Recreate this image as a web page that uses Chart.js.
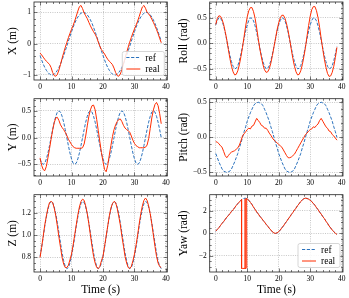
<!DOCTYPE html>
<html>
<head>
<meta charset="utf-8">
<script src="https://cdn.jsdelivr.net/npm/chart.js@4.4.1/dist/chart.umd.min.js"></script>
<style>
  html, body { margin: 0; padding: 0; background: #fff; }
  #fig { position: relative; width: 349px; height: 298px; overflow: hidden; background: #fff; }
  #fig canvas { position: absolute; }
</style>
</head>
<body>
<div id="fig">
  <canvas id="chartX" width="175" height="96" style="left:0;top:0"></canvas>
  <canvas id="chartRoll" width="174" height="96" style="left:175px;top:0"></canvas>
  <canvas id="chartY" width="175" height="96" style="left:0;top:96px"></canvas>
  <canvas id="chartPitch" width="174" height="96" style="left:175px;top:96px"></canvas>
  <canvas id="chartZ" width="175" height="106" style="left:0;top:192px"></canvas>
  <canvas id="chartYaw" width="174" height="106" style="left:175px;top:192px"></canvas>
</div>
<script>
// ---- data ----
const time = [
  0, 0.5, 1, 1.5, 2, 2.5, 3, 3.5, 4, 4.5, 5, 5.5, 6, 6.5, 7, 7.5, 8, 8.5, 9, 9.5,
  10, 10.5, 11, 11.5, 12, 12.5, 13, 13.5, 14, 14.5, 15, 15.5, 16, 16.5, 17, 17.5, 18, 18.5, 19, 19.5,
  20, 20.5, 21, 21.5, 22, 22.5, 23, 23.5, 24, 24.5, 25, 25.5, 26, 26.5, 27, 27.5, 28, 28.5, 29, 29.5,
  30, 30.5, 31, 31.5, 32, 32.5, 33, 33.5, 34, 34.5, 35, 35.5, 36, 36.5, 37, 37.5, 38, 38.5
]

const xRef = [
  -0.38, -0.52, -0.65, -0.76, -0.85, -0.92, -0.97, -1.00, -1.00, -0.97,
  -0.92, -0.85, -0.76, -0.65, -0.52, -0.38, -0.23, -0.08, 0.08, 0.23,
  0.38, 0.52, 0.65, 0.76, 0.85, 0.92, 0.97, 1.00, 1.00, 0.97,
  0.92, 0.85, 0.76, 0.65, 0.52, 0.38, 0.23, 0.08, -0.08, -0.23,
  -0.38, -0.52, -0.65, -0.76, -0.85, -0.92, -0.97, -1.00, -1.00, -0.97,
  -0.92, -0.85, -0.76, -0.65, -0.52, -0.38, -0.23, -0.08, 0.08, 0.23,
  0.38, 0.52, 0.65, 0.76, 0.85, 0.92, 0.97, 1.00, 1.00, 0.97,
  0.92, 0.85, 0.76, 0.65, 0.52, 0.38, 0.23, 0.08
]
const xReal = [
  -0.30, -0.36, -0.43, -0.50, -0.56, -0.61, -0.66, -0.76, -0.92, -1.02,
  -1.04, -0.98, -0.84, -0.66, -0.47, -0.29, -0.12, 0.04, 0.19, 0.33,
  0.46, 0.58, 0.72, 0.88, 1.04, 1.18, 1.22, 1.12, 0.98, 0.89,
  0.80, 0.68, 0.57, 0.47, 0.38, 0.30, 0.20, 0.05, -0.08, -0.19,
  -0.26, -0.33, -0.42, -0.50, -0.56, -0.61, -0.67, -0.78, -0.92, -1.02,
  -1.04, -0.97, -0.83, -0.65, -0.46, -0.28, -0.11, 0.05, 0.20, 0.34,
  0.47, 0.59, 0.72, 0.87, 1.03, 1.17, 1.22, 1.13, 1.00, 0.95,
  0.88, 0.78, 0.68, 0.57, 0.45, 0.32, 0.17, 0.03
]

const yRef = [
  -0.40, -0.48, -0.50, -0.48, -0.40, -0.29, -0.15, 0.00, 0.15, 0.29,
  0.40, 0.48, 0.50, 0.48, 0.40, 0.29, 0.15, 0.00, -0.15, -0.29,
  -0.40, -0.48, -0.50, -0.48, -0.40, -0.29, -0.15, 0.00, 0.15, 0.29,
  0.40, 0.48, 0.50, 0.48, 0.40, 0.29, 0.15, 0.00, -0.15, -0.29,
  -0.40, -0.48, -0.50, -0.48, -0.40, -0.29, -0.15, 0.00, 0.15, 0.29,
  0.40, 0.48, 0.50, 0.48, 0.40, 0.29, 0.15, 0.00, -0.15, -0.29,
  -0.40, -0.48, -0.50, -0.48, -0.40, -0.29, -0.15, 0.00, 0.15, 0.29,
  0.40, 0.48, 0.50, 0.48, 0.40, 0.29, 0.15, 0.00
]
const yReal = [
  -0.38, -0.52, -0.60, -0.62, -0.54, -0.38, -0.21, -0.03, 0.14, 0.28,
  0.37, 0.38, 0.32, 0.24, 0.19, 0.15, 0.10, 0.04, -0.03, -0.08,
  -0.13, -0.17, -0.19, -0.20, -0.20, -0.20, -0.20, -0.19, -0.12, 0.03,
  0.22, 0.40, 0.52, 0.60, 0.61, 0.52, 0.34, 0.13, -0.08, -0.28,
  -0.45, -0.60, -0.64, -0.52, -0.33, -0.15, 0.02, 0.15, 0.24, 0.30,
  0.34, 0.35, 0.30, 0.23, 0.18, 0.15, 0.13, 0.10, 0.03, -0.05,
  -0.11, -0.15, -0.17, -0.19, -0.19, -0.19, -0.19, -0.18, -0.14, -0.02,
  0.17, 0.37, 0.52, 0.62, 0.66, 0.60, 0.45, 0.26
]

const zRef = [
  0.81, 0.89, 0.98, 1.08, 1.16, 1.23, 1.28, 1.30, 1.29, 1.25,
  1.19, 1.11, 1.02, 0.93, 0.84, 0.77, 0.72, 0.70, 0.71, 0.75,
  0.81, 0.89, 0.98, 1.08, 1.16, 1.23, 1.28, 1.30, 1.29, 1.25,
  1.19, 1.11, 1.02, 0.93, 0.84, 0.77, 0.72, 0.70, 0.71, 0.75,
  0.81, 0.89, 0.98, 1.08, 1.16, 1.23, 1.28, 1.30, 1.29, 1.25,
  1.19, 1.11, 1.02, 0.93, 0.84, 0.77, 0.72, 0.70, 0.71, 0.75,
  0.81, 0.89, 0.98, 1.08, 1.16, 1.23, 1.28, 1.30, 1.29, 1.25,
  1.19, 1.11, 1.02, 0.93, 0.84, 0.77, 0.72, 0.70
]
const zReal = [
  0.80, 0.89, 0.99, 1.09, 1.17, 1.24, 1.29, 1.30, 1.29, 1.24,
  1.17, 1.08, 0.98, 0.89, 0.80, 0.74, 0.71, 0.71, 0.73, 0.78,
  0.83, 0.91, 1.00, 1.09, 1.18, 1.25, 1.30, 1.32, 1.31, 1.26,
  1.19, 1.10, 1.00, 0.90, 0.81, 0.75, 0.71, 0.70, 0.72, 0.77,
  0.81, 0.90, 0.99, 1.08, 1.17, 1.24, 1.28, 1.30, 1.29, 1.24,
  1.17, 1.09, 0.99, 0.90, 0.81, 0.75, 0.71, 0.70, 0.72, 0.77,
  0.83, 0.91, 1.00, 1.10, 1.19, 1.26, 1.31, 1.33, 1.31, 1.26,
  1.19, 1.10, 1.00, 0.90, 0.81, 0.75, 0.72, 0.71
]

const rollRef = [
  0.36, 0.45, 0.50, 0.49, 0.44, 0.34, 0.21, 0.06, -0.09, -0.24,
  -0.36, -0.45, -0.50, -0.49, -0.44, -0.34, -0.21, -0.06, 0.09, 0.24,
  0.36, 0.45, 0.50, 0.49, 0.44, 0.34, 0.21, 0.06, -0.09, -0.24,
  -0.36, -0.45, -0.50, -0.49, -0.44, -0.34, -0.21, -0.06, 0.09, 0.24,
  0.36, 0.45, 0.50, 0.49, 0.44, 0.34, 0.21, 0.06, -0.09, -0.24,
  -0.36, -0.45, -0.50, -0.49, -0.44, -0.34, -0.21, -0.06, 0.09, 0.24,
  0.36, 0.45, 0.50, 0.49, 0.44, 0.34, 0.21, 0.06, -0.09, -0.24,
  -0.36, -0.45, -0.50, -0.49, -0.44, -0.34, -0.21, -0.06
]
const rollReal = [
  0.37, 0.49, 0.54, 0.53, 0.47, 0.37, 0.23, 0.07, -0.12, -0.30,
  -0.45, -0.56, -0.62, -0.61, -0.54, -0.42, -0.26, -0.08, 0.13, 0.34,
  0.52, 0.64, 0.70, 0.70, 0.62, 0.49, 0.30, 0.09, -0.11, -0.27,
  -0.42, -0.52, -0.57, -0.56, -0.50, -0.39, -0.24, -0.07, 0.10, 0.27,
  0.40, 0.50, 0.55, 0.55, 0.49, 0.38, 0.24, 0.07, -0.12, -0.30,
  -0.45, -0.56, -0.62, -0.61, -0.54, -0.42, -0.26, -0.08, 0.14, 0.35,
  0.53, 0.66, 0.72, 0.72, 0.64, 0.50, 0.31, 0.09, -0.12, -0.31,
  -0.47, -0.59, -0.65, -0.64, -0.57, -0.45, -0.28, -0.08
]

const pitchRef = [
  -0.23, -0.29, -0.35, -0.40, -0.45, -0.48, -0.49, -0.50, -0.49, -0.48,
  -0.45, -0.40, -0.35, -0.29, -0.23, -0.15, -0.08, 0.00, 0.08, 0.15,
  0.23, 0.29, 0.35, 0.40, 0.45, 0.48, 0.49, 0.50, 0.49, 0.48,
  0.45, 0.40, 0.35, 0.29, 0.23, 0.15, 0.08, 0.00, -0.08, -0.15,
  -0.23, -0.29, -0.35, -0.40, -0.45, -0.48, -0.49, -0.50, -0.49, -0.48,
  -0.45, -0.40, -0.35, -0.29, -0.23, -0.15, -0.08, 0.00, 0.08, 0.15,
  0.23, 0.29, 0.35, 0.40, 0.45, 0.48, 0.49, 0.50, 0.49, 0.48,
  0.45, 0.40, 0.35, 0.29, 0.23, 0.15, 0.08, 0.00
]
const pitchReal = [
  -0.06, -0.07, -0.09, -0.12, -0.14, -0.20, -0.26, -0.29, -0.26, -0.23,
  -0.21, -0.20, -0.19, -0.17, -0.15, -0.11, -0.05, 0.02, 0.05, 0.08,
  0.11, 0.13, 0.12, 0.16, 0.17, 0.22, 0.27, 0.24, 0.21, 0.17,
  0.16, 0.13, 0.13, 0.10, 0.06, 0.03, -0.01, -0.04, -0.06, -0.08,
  -0.10, -0.12, -0.14, -0.18, -0.22, -0.26, -0.29, -0.29, -0.28, -0.26,
  -0.24, -0.20, -0.16, -0.12, -0.08, -0.04, 0.00, 0.04, 0.06, 0.09,
  0.11, 0.12, 0.15, 0.14, 0.17, 0.19, 0.24, 0.27, 0.23, 0.19,
  0.15, 0.13, 0.09, 0.08, 0.04, 0.02, -0.01, -0.04
]

const yawRef = [
  0.18, 0.35, 0.52, 0.70, 0.88, 1.06, 1.24, 1.42, 1.60, 1.77,
  1.94, 2.12, 2.30, 2.48, 2.65, 2.82, 2.96, 3.07, 3.13, 3.13,
  3.08, 2.96, 2.78, 2.57, 2.35, 2.13, 1.92, 1.73, 1.54, 1.36,
  1.18, 1.00, 0.82, 0.64, 0.46, 0.29, 0.14, 0.03, -0.01, 0.03,
  0.14, 0.30, 0.48, 0.67, 0.87, 1.07, 1.27, 1.47, 1.67, 1.87,
  2.07, 2.27, 2.47, 2.66, 2.84, 2.99, 3.09, 3.14, 3.12, 3.06,
  2.97, 2.84, 2.68, 2.50, 2.31, 2.11, 1.91, 1.71, 1.51, 1.31,
  1.10, 0.89, 0.68, 0.48, 0.31, 0.15, 0.02, -0.08
]
// measured yaw has its own time stamps: it wraps to -pi around t = 8.2 s
const yawRealTime = [
  0, 0.5, 1, 1.5, 2, 2.5, 3, 3.5, 4, 4.5, 5, 5.5, 6, 6.5, 7, 7.5, 8,
  8.2, 8.2, 8.6, 9, 9.6, 9.6,
  10, 10.5, 11, 11.5, 12, 12.5, 13, 13.5, 14, 14.5, 15, 15.5, 16, 16.5, 17, 17.5, 18, 18.5, 19, 19.5,
  20, 20.5, 21, 21.5, 22, 22.5, 23, 23.5, 24, 24.5, 25, 25.5, 26, 26.5, 27, 27.5, 28, 28.5, 29, 29.5,
  30, 30.5, 31, 31.5, 32, 32.5, 33, 33.5, 34, 34.5, 35, 35.5, 36, 36.5, 37, 37.5, 38, 38.5
]
const yawReal = [
  0.20, 0.36, 0.50, 0.70, 0.90, 1.05, 1.25, 1.45, 1.58, 1.76, 1.96, 2.10, 2.28, 2.50, 2.64, 2.80, 2.95,
  3.02, -3.13, -3.13, -3.13, -3.13, 3.11,
  3.06, 2.95, 2.76, 2.58, 2.33, 2.14, 1.90, 1.74, 1.52, 1.37,
  1.16, 1.01, 0.80, 0.65, 0.45, 0.30, 0.13, 0.03, 0.00, 0.05,
  0.15, 0.30, 0.50, 0.66, 0.88, 1.06, 1.28, 1.46, 1.68, 1.86,
  2.08, 2.25, 2.48, 2.64, 2.85, 2.98, 3.10, 3.14, 3.11, 3.05,
  2.95, 2.84, 2.66, 2.51, 2.29, 2.12, 1.89, 1.72, 1.49, 1.32,
  1.08, 0.90, 0.66, 0.49, 0.29, 0.16, 0.00, -0.10
]
// fast +-pi flipping right after the wrap (drawn faint)
const yawFlipTime = [9.0, 9.1, 9.2, 9.3, 9.4, 9.5, 9.6, 9.7, 9.8, 9.9, 10.0]
const yawFlip = [-3.12, 3.12, -3.12, 3.12, -3.12, 3.12, -3.12, 3.12, -3.12, 3.12, -3.12]

const timeTicks = [0, 10, 20, 30, 40]
const seriesLabels = ['ref', 'real']

// ---- styling ----
const BLUE = '#2b72bd'
const RED = '#ff2c00'
const SERIF = "'Liberation Serif', 'Times New Roman', serif"

/**
 * Tick formatter with a real minus sign, like matplotlib
 */
const fmt = (digits) => (value) => {
  const s = Math.abs(value).toFixed(digits)
  return value < -1e-9 ? '\u2212' + s : s
}

/**
 * Frame plugin: box, inward major/minor ticks on all sides, legend inside the axes
 */
const framePlugin = {
  id: 'frame',
  afterDatasetsDraw(chart, args, opts) {
    const { ctx, chartArea: a, scales } = chart
    ctx.save()
    ctx.setLineDash([])
    ctx.strokeStyle = '#222'
    ctx.lineWidth = 0.6
    this._ticks(ctx, scales.x, a, opts.minorX, true)
    this._ticks(ctx, scales.y, a, opts.minorY, false)
    ctx.lineWidth = 0.8
    ctx.strokeRect(a.left, a.top, a.right - a.left, a.bottom - a.top)
    if (opts.legend) this._legend(ctx, a, chart.data.datasets.filter(d => d.inLegend))
    ctx.restore()
  },

  _ticks(ctx, scale, a, minor, horizontal) {
    const majors = scale.ticks.map(t => t.value)
    const first = Math.ceil(scale.min / minor - 1e-6)
    const last = Math.floor(scale.max / minor + 1e-6)
    ctx.beginPath()
    for (let i = first; i <= last; i++) {
      const v = i * minor
      const isMajor = majors.some(m => Math.abs(m - v) < minor / 10)
      const len = isMajor ? 3.5 : 2
      const p = Math.round(scale.getPixelForValue(v)) + 0.5
      if (horizontal) {
        ctx.moveTo(p, a.bottom); ctx.lineTo(p, a.bottom - len)
        ctx.moveTo(p, a.top); ctx.lineTo(p, a.top + len)
      } else {
        ctx.moveTo(a.left, p); ctx.lineTo(a.left + len, p)
        ctx.moveTo(a.right, p); ctx.lineTo(a.right - len, p)
      }
    }
    ctx.stroke()
  },

  _legend(ctx, a, items) {
    const w = 42
    const h = 24
    const x0 = a.right - 3 - w
    const y0 = a.bottom - 4.5 - h
    ctx.beginPath()
    ctx.roundRect(x0, y0, w, h, 2)
    ctx.fillStyle = 'rgba(255,255,255,0.85)'
    ctx.fill()
    ctx.strokeStyle = '#cccccc'
    ctx.lineWidth = 0.8
    ctx.stroke()
    ctx.font = `9.5px ${SERIF}`
    ctx.textBaseline = 'middle'
    items.forEach((d, i) => {
      const yy = y0 + 6 + i * 11.5
      ctx.beginPath()
      ctx.setLineDash(d.borderDash || [])
      ctx.strokeStyle = d.borderColor
      ctx.lineWidth = 1
      ctx.moveTo(x0 + 4, yy)
      ctx.lineTo(x0 + 18, yy)
      ctx.stroke()
      ctx.setLineDash([])
      ctx.fillStyle = '#000'
      ctx.fillText(d.label, x0 + 23, yy + 0.5)
    })
  },
}

/**
 * One subplot of the figure
 */
const Subplot = {
  _instances: new Map(),

  render(canvasId, config) {
    const canvas = document.getElementById(canvasId)
    if (!canvas) return null

    const datasets = config.series.map(s => ({
      label: s.label,
      inLegend: s.inLegend,
      data: s.x.map((t, i) => ({ x: t, y: s.y[i] })),
      borderColor: s.color,
      borderWidth: s.width || 1,
      borderDash: s.dash || [],
      pointRadius: 0,
      tension: 0,
      fill: false,
      order: s.order,
    }))

    const gridOpts = { color: 'rgba(0,0,0,0.32)', lineWidth: 0.7, drawTicks: false }
    const borderOpts = { display: false, dash: [1, 1.3] }

    const chart = new Chart(canvas, {
      type: 'line',
      data: { datasets },
      plugins: [framePlugin],
      options: {
        responsive: false,
        animation: false,
        events: [],
        layout: { padding: config.padding },
        plugins: {
          legend: { display: false },
          tooltip: { enabled: false },
          frame: { legend: !!config.legend, minorX: 2, minorY: config.minorY },
        },
        scales: {
          x: {
            type: 'linear',
            min: -1.925,
            max: 40.425,
            grid: gridOpts,
            border: borderOpts,
            afterBuildTicks: (s) => { s.ticks = timeTicks.map(v => ({ value: v })) },
            ticks: {
              padding: 3, maxRotation: 0, autoSkip: false, color: '#000',
              font: { family: SERIF, size: 7.5 }, callback: fmt(0),
            },
            title: {
              display: !!config.xTitle, text: config.xTitle || '', color: '#000',
              font: { family: SERIF, size: 11.5 }, padding: { top: 0, bottom: 1.5 },
            },
            afterFit: (s) => { s.height = config.xHeight; s.paddingLeft = 0; s.paddingRight = 0 },
          },
          y: {
            type: 'linear',
            min: config.yMin,
            max: config.yMax,
            grid: gridOpts,
            border: borderOpts,
            ticks: {
              stepSize: config.yStep, includeBounds: false, padding: 3, autoSkip: false, color: '#000',
              font: { family: SERIF, size: 7.5 }, callback: fmt(config.yDigits),
            },
            title: {
              display: true, text: config.yTitle, color: '#000',
              font: { family: SERIF, size: 11.5 }, padding: { top: config.yTitlePad, bottom: 0 },
            },
            afterFit: (s) => { s.width = config.yWidth; s.paddingTop = 0; s.paddingBottom = 0 },
          },
        },
      },
    })

    this._instances.set(canvasId, chart)
    return chart
  },
}

const pair = (ref, real, t = time) => [
  { label: seriesLabels[0], x: time, y: ref, color: BLUE, dash: [3.2, 1.6], order: 2, inLegend: true },
  { label: seriesLabels[1], x: t, y: real, color: RED, order: 1, inLegend: true },
]

const left = { yWidth: 34, yTitlePad: 6.5 }
const right = { yWidth: 34.7, yTitlePad: 2.5 }

Subplot.render('chartX', {
  ...left, padding: { top: 2, right: 7.7, bottom: 0, left: 0 }, xHeight: 16,
  yMin: -1.16, yMax: 1.33, yStep: 1, yDigits: 0, minorY: 0.2, yTitle: 'X (m)',
  legend: true, series: pair(xRef, xReal),
})
Subplot.render('chartRoll', {
  ...right, padding: { top: 2, right: 6, bottom: 0, left: 0 }, xHeight: 16,
  yMin: -0.72, yMax: 0.81, yStep: 0.5, yDigits: 1, minorY: 0.1, yTitle: 'Roll (rad)',
  series: pair(rollRef, rollReal),
})
Subplot.render('chartY', {
  ...left, padding: { top: 2.7, right: 7.7, bottom: 0, left: 0 }, xHeight: 16,
  yMin: -0.72, yMax: 0.73, yStep: 0.5, yDigits: 1, minorY: 0.1, yTitle: 'Y (m)',
  series: pair(yRef, yReal),
})
Subplot.render('chartPitch', {
  ...right, padding: { top: 2.7, right: 6, bottom: 0, left: 0 }, xHeight: 16,
  yMin: -0.55, yMax: 0.55, yStep: 0.5, yDigits: 1, minorY: 0.1, yTitle: 'Pitch (rad)',
  series: pair(pitchRef, pitchReal),
})
Subplot.render('chartZ', {
  ...left, padding: { top: 2.7, right: 7.7, bottom: 0, left: 0 }, xHeight: 26,
  yMin: 0.67, yMax: 1.36, yStep: 0.2, yDigits: 1, minorY: 0.05, yTitle: 'Z (m)', xTitle: 'Time (s)',
  series: pair(zRef, zReal),
})
Subplot.render('chartYaw', {
  ...right, padding: { top: 2.7, right: 6, bottom: 0, left: 0 }, xHeight: 26,
  yMin: -3.45, yMax: 3.45, yStep: 2, yDigits: 0, minorY: 0.5, yTitle: 'Yaw (rad)', xTitle: 'Time (s)',
  legend: true,
  series: [
    ...pair(yawRef, yawReal, yawRealTime),
    { label: 'flip', x: yawFlipTime, y: yawFlip, color: 'rgba(255,44,0,0.28)', order: 3, inLegend: false },
  ],
})
</script>
</body>
</html>
